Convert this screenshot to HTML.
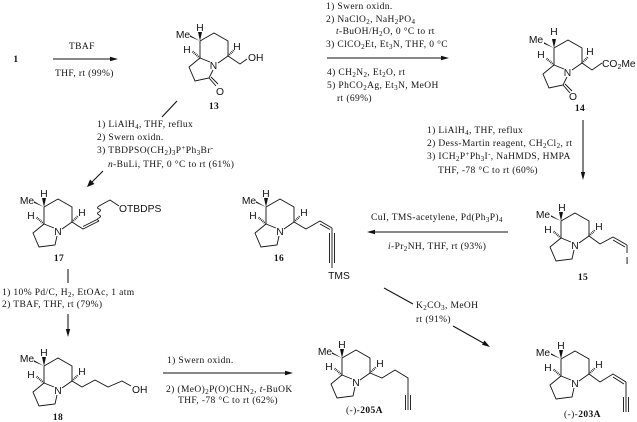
<!DOCTYPE html>
<html><head><meta charset="utf-8"><style>
html,body{margin:0;padding:0;background:#fff}
svg{display:block;filter:blur(.3px)}
text{fill:#111}
.s{font-family:"Liberation Serif",serif;font-size:9.5px;letter-spacing:.38px}
.b{font-family:"Liberation Serif",serif;font-size:9.5px;font-weight:bold;letter-spacing:.4px}
.a{font-family:"Liberation Sans",sans-serif;font-size:10.3px}
.u{font-size:7px}
.l{fill:none;stroke:#111;stroke-width:.9}
.h{fill:none;stroke:#111;stroke-width:2.2;stroke-dasharray:.8 1}
.w{stroke:#111;stroke-width:1.05;fill:none}
</style></head><body>
<svg width="637" height="422" viewBox="0 0 637 422" xmlns="http://www.w3.org/2000/svg">
<defs>
<g id="c6">
<path class="l" d="M0 0L14-8L28 0V15L18 22M10 21L0 17V0"/>
<polygon points="0,0 -2,-9 2,-9" fill="#111"/>
<polygon points="0,0 -10,-4.2 -10,-5.8" fill="#111"/>
<line class="h" x1="0" y1="17" x2="-8" y2="10"/>
<line class="h" x1="28" y1="15" x2="34" y2="9"/>
</g>
<g id="pyr"><path class="l" d="M0 17L-11 26L-5 40L11 38L13 29"/></g>
<g id="lac"><path class="l" d="M0 17L-11 26L-5 40L9 37L13 29M9 37L16 45M11 36L18 43"/></g>
</defs>

<!-- 13 -->
<g transform="translate(200,41)"><use href="#c6"/><use href="#lac"/>
<path class="l" d="M28 15L40 23L47 18"/>
<text class="a" x="0" y="-10" text-anchor="middle">H</text>
<text class="a" x="-17" y="-3" text-anchor="middle">Me</text>
<text class="a" x="-13" y="12" text-anchor="middle">H</text>
<text class="a" x="37" y="9" text-anchor="middle">H</text>
<text class="a" x="13.500" y="28" text-anchor="middle">N</text>
<text class="a" x="20" y="54" text-anchor="middle">O</text>
<text class="a" x="48" y="20">OH</text></g>

<!-- 14 -->
<g transform="translate(554,48)"><use href="#c6"/><use href="#lac"/>
<path class="l" d="M28 15L38 22L48 15"/>
<text class="a" x="0" y="-13" text-anchor="middle">H</text>
<text class="a" x="-18" y="-5" text-anchor="middle">Me</text>
<text class="a" x="-13" y="10" text-anchor="middle">H</text>
<text class="a" x="36" y="7" text-anchor="middle">H</text>
<text class="a" x="13.500" y="28" text-anchor="middle">N</text>
<text class="a" x="19" y="52" text-anchor="middle">O</text>
<text class="a" x="48" y="19">CO<tspan class="u" dy="2">2</tspan><tspan dy="-2">Me</tspan></text></g>

<!-- 17 -->
<g transform="translate(44,207)"><use href="#c6"/><use href="#pyr"/>
<path class="l" d="M28 15L39 22L55 14M39 19.500L53 12.500"/>
<path class="l" d="M55 14q-3-2 0-3q3-2 0-3q-3-2 0-3q3-2 0-3q-3-1 0-3L66-7L75-1"/>
<text class="a" x="0" y="-10" text-anchor="middle">H</text>
<text class="a" x="-17" y="-3" text-anchor="middle">Me</text>
<text class="a" x="-13" y="12" text-anchor="middle">H</text>
<text class="a" x="38" y="9" text-anchor="middle">H</text>
<text class="a" x="14" y="28" text-anchor="middle">N</text>
<text class="a" x="75" y="5">OTBDPS</text></g>

<!-- 16 -->
<g transform="translate(266,207)"><use href="#c6"/><use href="#pyr"/>
<path class="l" d="M28 15L40 22L54 14L66 21M54 17L64 22.500M66 21V61M63.500 26V56M68.500 26V56"/>
<text class="a" x="0" y="-10" text-anchor="middle">H</text>
<text class="a" x="-17" y="-3" text-anchor="middle">Me</text>
<text class="a" x="-13" y="12" text-anchor="middle">H</text>
<text class="a" x="38" y="9" text-anchor="middle">H</text>
<text class="a" x="14" y="28" text-anchor="middle">N</text>
<text class="a" x="73" y="72" text-anchor="middle">TMS</text></g>

<!-- 15 -->
<g transform="translate(561,221)"><use href="#c6"/><use href="#pyr"/>
<path class="l" d="M28 15L39 23L52 16L66 24M52 19L64 26M66 24V32"/>
<text class="a" x="1" y="-10" text-anchor="middle">H</text>
<text class="a" x="-18" y="-3" text-anchor="middle">Me</text>
<text class="a" x="-13" y="12" text-anchor="middle">H</text>
<text class="a" x="38" y="9" text-anchor="middle">H</text>
<text class="a" x="14" y="28" text-anchor="middle">N</text>
<text class="a" x="66" y="43" text-anchor="middle">I</text></g>

<!-- 18 -->
<g transform="translate(44,366)"><use href="#c6"/><use href="#pyr"/>
<path class="l" d="M28 15L38 21L51 14L64 21L78 15L87 20"/>
<text class="a" x="0" y="-10" text-anchor="middle">H</text>
<text class="a" x="-17" y="-4" text-anchor="middle">Me</text>
<text class="a" x="-13" y="12" text-anchor="middle">H</text>
<text class="a" x="38" y="9" text-anchor="middle">H</text>
<text class="a" x="14" y="28" text-anchor="middle">N</text>
<text class="a" x="88" y="27">OH</text></g>

<!-- 205A -->
<g transform="translate(342,358)"><use href="#c6"/><use href="#pyr"/>
<path class="l" d="M28 15L40 20L53 12L66 20V37V52M63.500 37V52M68.500 37V52"/>
<text class="a" x="0" y="-10" text-anchor="middle">H</text>
<text class="a" x="-17" y="-3" text-anchor="middle">Me</text>
<text class="a" x="-13" y="12" text-anchor="middle">H</text>
<text class="a" x="38" y="9" text-anchor="middle">H</text>
<text class="a" x="14" y="28" text-anchor="middle">N</text></g>

<!-- 203A -->
<g transform="translate(561,359)"><use href="#c6"/><use href="#pyr"/>
<path class="l" d="M28 15L39 23L52 15L65 23M52 18L63 25M65 23V38V53M62.500 38V53M67.500 38V53"/>
<text class="a" x="0" y="-10" text-anchor="middle">H</text>
<text class="a" x="-18" y="-3" text-anchor="middle">Me</text>
<text class="a" x="-13" y="12" text-anchor="middle">H</text>
<text class="a" x="38" y="9" text-anchor="middle">H</text>
<text class="a" x="14" y="28" text-anchor="middle">N</text></g>

<!-- arrows -->
<g class="w">
<line x1="53" y1="59" x2="113" y2="59"/>
<line x1="177" y1="101" x2="162" y2="117"/>
<line x1="103" y1="171" x2="91" y2="183"/>
<line x1="327" y1="58" x2="443" y2="58"/>
<line x1="583" y1="120" x2="583" y2="173"/>
<line x1="508" y1="232" x2="373" y2="232"/>
<line x1="68" y1="269" x2="68" y2="283"/>
<line x1="68" y1="314" x2="68" y2="331"/>
<line x1="163" y1="373" x2="288" y2="373"/>
<line x1="384" y1="288" x2="413" y2="304"/>
<line x1="453" y1="326" x2="485" y2="344"/>
</g>
<g fill="#111">
<polygon points="118,59 110,56.800 110,61.200"/>
<polygon points="87,187 90,179.500 94.500,184"/>
<polygon points="449,58 441,55.800 441,60.200"/>
<polygon points="583,180 580.800,172 585.200,172"/>
<polygon points="367,232 375,229.800 375,234.200"/>
<polygon points="68,337 65.800,329 70.200,329"/>
<polygon points="293,373 285,370.800 285,375.200"/>
<polygon points="490,347 482,344.800 484.500,340.500"/>
</g>

<!-- labels -->
<text class="b" x="16" y="62" text-anchor="middle">1</text>
<text class="b" x="214" y="109" text-anchor="middle">13</text>
<text class="b" x="580" y="111" text-anchor="middle">14</text>
<text class="b" x="59" y="261" text-anchor="middle">17</text>
<text class="b" x="279" y="261" text-anchor="middle">16</text>
<text class="b" x="583" y="280" text-anchor="middle">15</text>
<text class="b" x="58" y="420" text-anchor="middle">18</text>
<text class="s" x="346" y="413">(-)-<tspan class="b">205A</tspan></text>
<text class="s" x="564" y="417">(-)-<tspan class="b">203A</tspan></text>

<!-- conditions -->
<text class="s" x="69" y="49">TBAF</text>
<text class="s" x="55" y="76">THF, rt (99%)</text>

<text class="s" x="97" y="127">1) LiAlH<tspan class="u" dy="2">4</tspan><tspan dy="-2">, THF, reflux</tspan></text>
<text class="s" x="97" y="140">2) Swern oxidn.</text>
<text class="s" x="97" y="153">3) TBDPSO(CH<tspan class="u" dy="2">2</tspan><tspan dy="-2">)</tspan><tspan class="u" dy="2">3</tspan><tspan dy="-2">P</tspan><tspan class="u" dy="-3">+</tspan><tspan dy="3">Ph</tspan><tspan class="u" dy="2">3</tspan><tspan dy="-2">Br</tspan><tspan class="u" dy="-3">-</tspan></text>
<text class="s" x="108" y="167"><tspan font-style="italic">n</tspan>-BuLi, THF, 0 °C to rt (61%)</text>

<text class="s" x="326" y="9">1) Swern oxidn.</text>
<text class="s" x="326" y="22">2) NaClO<tspan class="u" dy="2">2</tspan><tspan dy="-2">, NaH</tspan><tspan class="u" dy="2">2</tspan><tspan dy="-2">PO</tspan><tspan class="u" dy="2">4</tspan></text>
<text class="s" x="336" y="34"><tspan font-style="italic">t</tspan>-BuOH/H<tspan class="u" dy="2">2</tspan><tspan dy="-2">O, 0 °C to rt</tspan></text>
<text class="s" x="326" y="47">3) ClCO<tspan class="u" dy="2">2</tspan><tspan dy="-2">Et, Et</tspan><tspan class="u" dy="2">3</tspan><tspan dy="-2">N, THF, 0 °C</tspan></text>
<text class="s" x="327" y="75">4) CH<tspan class="u" dy="2">2</tspan><tspan dy="-2">N</tspan><tspan class="u" dy="2">2</tspan><tspan dy="-2">, Et</tspan><tspan class="u" dy="2">2</tspan><tspan dy="-2">O, rt</tspan></text>
<text class="s" x="327" y="88">5) PhCO<tspan class="u" dy="2">2</tspan><tspan dy="-2">Ag, Et</tspan><tspan class="u" dy="2">3</tspan><tspan dy="-2">N, MeOH</tspan></text>
<text class="s" x="337" y="101">rt (69%)</text>

<text class="s" x="427" y="133">1) LiAlH<tspan class="u" dy="2">4</tspan><tspan dy="-2">, THF, reflux</tspan></text>
<text class="s" x="427" y="146">2) Dess-Martin reagent, CH<tspan class="u" dy="2">2</tspan><tspan dy="-2">Cl</tspan><tspan class="u" dy="2">2</tspan><tspan dy="-2">, rt</tspan></text>
<text class="s" x="427" y="159">3) ICH<tspan class="u" dy="2">2</tspan><tspan dy="-2">P</tspan><tspan class="u" dy="-3">+</tspan><tspan dy="3">Ph</tspan><tspan class="u" dy="2">3</tspan><tspan dy="-2">I</tspan><tspan class="u" dy="-3">-</tspan><tspan dy="3">, NaHMDS, HMPA</tspan></text>
<text class="s" x="438" y="173">THF, -78 °C to rt (60%)</text>

<text class="s" x="371" y="220">CuI, TMS-acetylene, Pd(Ph<tspan class="u" dy="2">3</tspan><tspan dy="-2">P)</tspan><tspan class="u" dy="2">4</tspan></text>
<text class="s" x="388" y="249"><tspan font-style="italic">i</tspan>-Pr<tspan class="u" dy="2">2</tspan><tspan dy="-2">NH, THF, rt (93%)</tspan></text>

<text class="s" x="2" y="295">1) 10% Pd/C, H<tspan class="u" dy="2">2</tspan><tspan dy="-2">, EtOAc, 1 atm</tspan></text>
<text class="s" x="2" y="307">2) TBAF, THF, rt (79%)</text>

<text class="s" x="167" y="363">1) Swern oxidn.</text>
<text class="s" x="166" y="392">2) (MeO)<tspan class="u" dy="2">2</tspan><tspan dy="-2">P(O)CHN</tspan><tspan class="u" dy="2">2</tspan><tspan dy="-2">, </tspan><tspan font-style="italic">t</tspan>-BuOK</text>
<text class="s" x="178" y="403">THF, -78 °C to rt (62%)</text>

<text class="s" x="416" y="308">K<tspan class="u" dy="2">2</tspan><tspan dy="-2">CO</tspan><tspan class="u" dy="2">3</tspan><tspan dy="-2">, MeOH</tspan></text>
<text class="s" x="416" y="322">rt (91%)</text>
</svg>
</body></html>
